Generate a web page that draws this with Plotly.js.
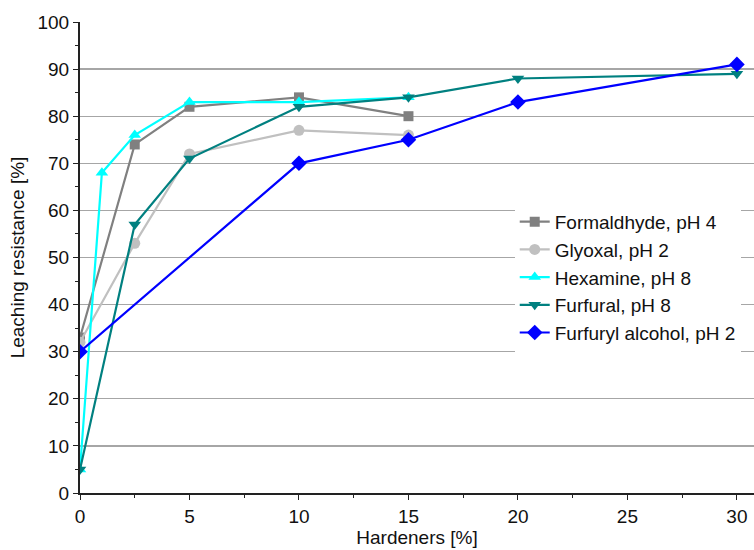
<!DOCTYPE html>
<html>
<head>
<meta charset="utf-8">
<script src="https://cdn.plot.ly/plotly-3.0.1.min.js"></script>
<style>html,body{margin:0;padding:0;background:#fff;}#chart{width:754px;height:550px;}</style>
</head>
<body>
<div id="chart"></div>
<script>
// Data
const seriesNames = ["Formaldhyde, pH 4", "Glyoxal, pH 2", "Hexamine, pH 8", "Furfural, pH 8", "Furfuryl alcohol, pH 2"];

const formaldehydeX = [0, 2.5, 5, 10, 15];
const formaldehydeY = [33, 74, 82, 84, 80];

const glyoxalX = [0, 2.5, 5, 10, 15];
const glyoxalY = [32, 53, 72, 77, 76];

const hexamineX = [0, 1, 2.5, 5, 10, 15];
const hexamineY = [5, 68, 76, 83, 83, 84];

const furfuralX = [0, 2.5, 5, 10, 15, 20, 30];
const furfuralY = [5, 57, 71, 82, 84, 88, 89];

const furfurylX = [0, 10, 15, 20, 30];
const furfurylY = [30, 70, 75, 83, 91];

const gridVals = [10, 20, 30, 40, 50, 60, 70, 80, 90];

const colors = ["#808080", "#c0c0c0", "#00ffff", "#008080", "#0000ff"];
const symbols = ["square", "circle", "triangle-up", "triangle-down", "diamond"];
const xs = [formaldehydeX, glyoxalX, hexamineX, furfuralX, furfurylX];
const ys = [formaldehydeY, glyoxalY, hexamineY, furfuralY, furfurylY];
const sizes = [10, 11, 11, 11, 12];

const traces = seriesNames.map((name, i) => ({
  type: "scatter",
  mode: "lines+markers",
  name: name,
  x: xs[i],
  y: ys[i],
  line: {color: colors[i], width: 2.2},
  marker: {color: colors[i], symbol: symbols[i], size: sizes[i]},
  cliponaxis: true
}));

const font = "Liberation Sans, Arial, sans-serif";

const layout = {
  width: 754,
  height: 550,
  margin: {l: 80, r: 0, t: 22, b: 57},
  paper_bgcolor: "#ffffff",
  plot_bgcolor: "#ffffff",
  font: {family: font, size: 19, color: "#111111"},
  showlegend: true,
  legend: {
    x: 0.645, xanchor: "left",
    y: 0.616, yanchor: "top",
    bgcolor: "#ffffff",
    borderwidth: 0,
    font: {family: font, size: 19, color: "#111111"},
    tracegroupgap: 0
  },
  xaxis: {
    range: [0, 30.78],
    tickvals: [0, 5, 10, 15, 20, 25, 30],
    ticks: "outside", ticklen: 5, tickwidth: 1, tickcolor: "#222",
    minor: {tickvals: [2.5, 7.5, 12.5, 17.5, 22.5, 27.5], ticks: "outside", ticklen: 3, tickcolor: "#222", showgrid: false},
    showline: true, linecolor: "#222", linewidth: 2,
    showgrid: false, zeroline: false,
    tickfont: {size: 19},
    title: {text: "Hardeners [%]", font: {size: 19}, standoff: 4}
  },
  yaxis: {
    range: [0, 100],
    tickvals: [0, 10, 20, 30, 40, 50, 60, 70, 80, 90, 100],
    ticks: "outside", ticklen: 5, tickwidth: 1, tickcolor: "#222",
    minor: {tickvals: [5, 15, 25, 35, 45, 55, 65, 75, 85, 95], ticks: "outside", ticklen: 3, tickcolor: "#222", showgrid: false},
    showline: true, linecolor: "#222", linewidth: 2,
    showgrid: false, zeroline: false,
    tickfont: {size: 19},
    title: {text: "Leaching resistance [%]", font: {size: 19}, standoff: 8}
  },
  yaxis2: {
    overlaying: "y",
    range: [0, 100],
    tickvals: gridVals,
    showticklabels: false,
    ticks: "",
    showgrid: true, gridcolor: "#a6a6a6", gridwidth: 1.3,
    showline: false, zeroline: false
  }
};

// invisible helper trace bound to yaxis2 so the grid axis is drawn
traces.unshift({type: "scatter", x: [0], y: [0], yaxis: "y2", mode: "markers", marker: {opacity: 0}, showlegend: false, hoverinfo: "skip"});

Plotly.newPlot("chart", traces, layout, {displayModeBar: false, staticPlot: true});
</script>
</body>
</html>
